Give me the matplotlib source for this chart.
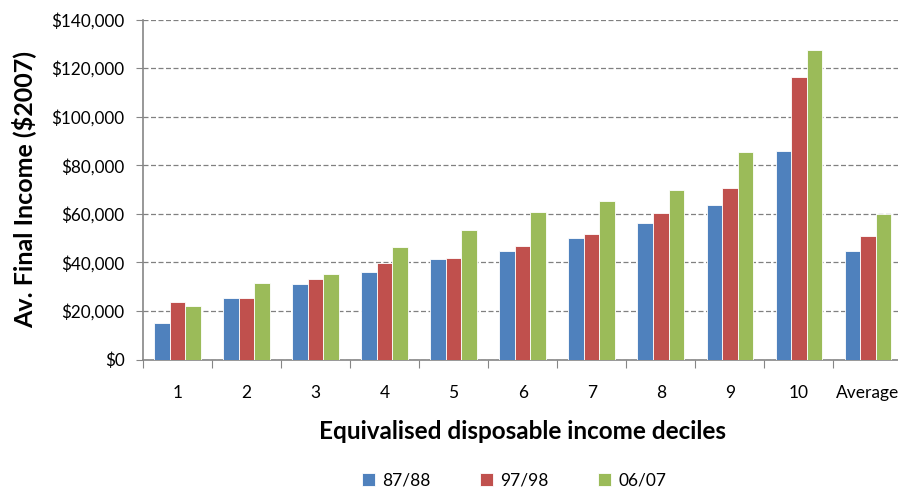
import numpy as np
import matplotlib
matplotlib.use("Agg")
import matplotlib.pyplot as plt
from matplotlib.ticker import FuncFormatter, FixedLocator

# average final income by decile, $2007
categories = ["1", "2", "3", "4", "5", "6", "7", "8", "9", "10", "Average"]
series_names = ["87/88", "97/98", "06/07"]
inc_8788 = [15000, 25200, 30900, 36000, 41200, 44600, 49900, 56200, 63600, 85800, 44600]
inc_9798 = [23700, 25200, 33300, 39600, 41800, 46800, 51500, 60200, 70500, 116500, 50900]
inc_0607 = [21900, 31500, 35100, 46400, 53300, 60700, 65200, 69800, 85300, 127400, 59800]
colors = ["#4F81BD", "#C0504D", "#9BBB59"]

plt.rcParams["font.family"] = ["Lato", "DejaVu Sans"]

fig = plt.figure(figsize=(8.98, 4.88), dpi=100)
ax = fig.add_axes([0.159, 0.2633, 0.846, 0.6967])

x = np.arange(len(categories))
w = 0.225
for i, (vals, name, c) in enumerate(zip([inc_8788, inc_9798, inc_0607], series_names, colors)):
    ax.bar(x + (i - 1) * w, vals, width=w, color=c, edgecolor="white",
           linewidth=0.6, label=name, zorder=3)

ax.set_xlim(-0.5, len(categories) - 0.5)
ax.set_ylim(0, 140000)
ax.set_yticks(np.arange(0, 140001, 20000))
ax.yaxis.set_major_formatter(FuncFormatter(lambda v, p: "${:,.0f}".format(v)))
ax.grid(axis="y", color="#808080", linestyle=(0, (4, 2)), linewidth=0.9, zorder=0)
ax.set_axisbelow(True)

# category ticks sit between groups, labels at group centres
ax.xaxis.set_major_locator(FixedLocator(np.arange(-0.5, len(categories), 1.0)))
ax.xaxis.set_major_formatter(FuncFormatter(lambda v, p: ""))
ax.xaxis.set_minor_locator(FixedLocator(x))
ax.set_xticklabels(categories, minor=True)
ax.tick_params(axis="x", which="major", length=6, color="#868686", direction="out")
ax.tick_params(axis="x", which="minor", length=0, pad=18, labelsize=12.5)
ax.tick_params(axis="y", length=5, color="#868686", direction="out", pad=8, labelsize=12.3)

for s in ["top", "right"]:
    ax.spines[s].set_visible(False)
for s in ["left", "bottom"]:
    ax.spines[s].set_color("#868686")
    ax.spines[s].set_linewidth(1.2)

ax.set_ylabel("Av. Final Income ($2007)", fontsize=18, fontweight="bold", labelpad=11)
ax.set_xlabel("Equivalised disposable income deciles", fontsize=17.5, fontweight="bold", labelpad=14)

ax.legend(loc="center", bbox_to_anchor=(0.489, -0.355), ncol=3, frameon=False,
          fontsize=12.5, handlelength=0.75, handleheight=0.75, columnspacing=2.85, handletextpad=0.4)

fig.savefig("out.png", dpi=100)
